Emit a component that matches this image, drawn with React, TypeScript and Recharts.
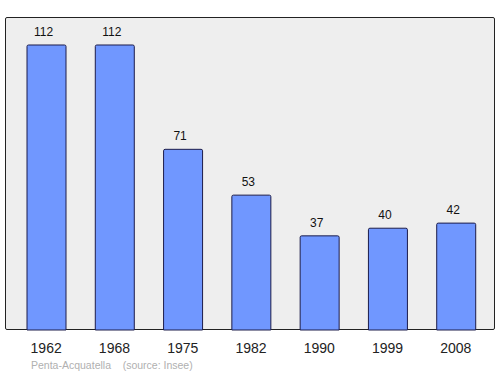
import { Bar, BarChart, LabelList, XAxis, YAxis } from "recharts";

const years = ["1962", "1968", "1975", "1982", "1990", "1999", "2008"];
const population = [112, 112, 71, 53, 37, 40, 42];

const rows = years.map((y, i) => ({ year: y, pop: population[i] }));

const FONT = "'Liberation Sans', Arial, sans-serif";

export default function App() {
  return (
    <div
      style={{
        position: "absolute",
        left: 0,
        top: 0,
        width: 500,
        height: 374,
        background: "#fff",
        fontFamily: FONT,
      }}
    >
      {/* plot frame */}
      <div
        style={{
          position: "absolute",
          left: 5,
          top: 17,
          width: 490,
          height: 313,
          boxSizing: "border-box",
          background: "#eeeeee",
          border: "1.3px solid #222",
          borderRadius: 2,
        }}
      />
      <div style={{ position: "absolute", left: 0, top: 0 }}>
        <BarChart
          width={500}
          height={374}
          data={rows}
          margin={{ top: 17, right: 5, left: 5, bottom: 0 }}
        >
          <XAxis
            dataKey="year"
            axisLine={false}
            tickLine={false}
            tickSize={0}
            tickMargin={13}
            padding={{ left: 7, right: 5 }}
            tick={{ fill: "#222", fontSize: 14, fontFamily: FONT }}
            interval={0}
            height={44}
          />
          <YAxis hide domain={[0, 123]} />
          <Bar
            dataKey="pop"
            fill="#7097ff"
            stroke="#1c1c4a"
            strokeWidth={1}
            barSize={39}
            radius={[1.5, 1.5, 0, 0]}
            isAnimationActive={false}
          >
            <LabelList
              dataKey="pop"
              position="top"
              offset={9}
              dx={-3}
              fill="#111"
              fontSize={12}
              fontFamily={FONT}
            />
          </Bar>
        </BarChart>
      </div>
      <div
        style={{
          position: "absolute",
          left: 31,
          top: 359,
          fontSize: 10.5,
          color: "#b0b0b0",
          whiteSpace: "pre",
        }}
      >
        {"Penta-Acquatella    (source: Insee)"}
      </div>
    </div>
  );
}
